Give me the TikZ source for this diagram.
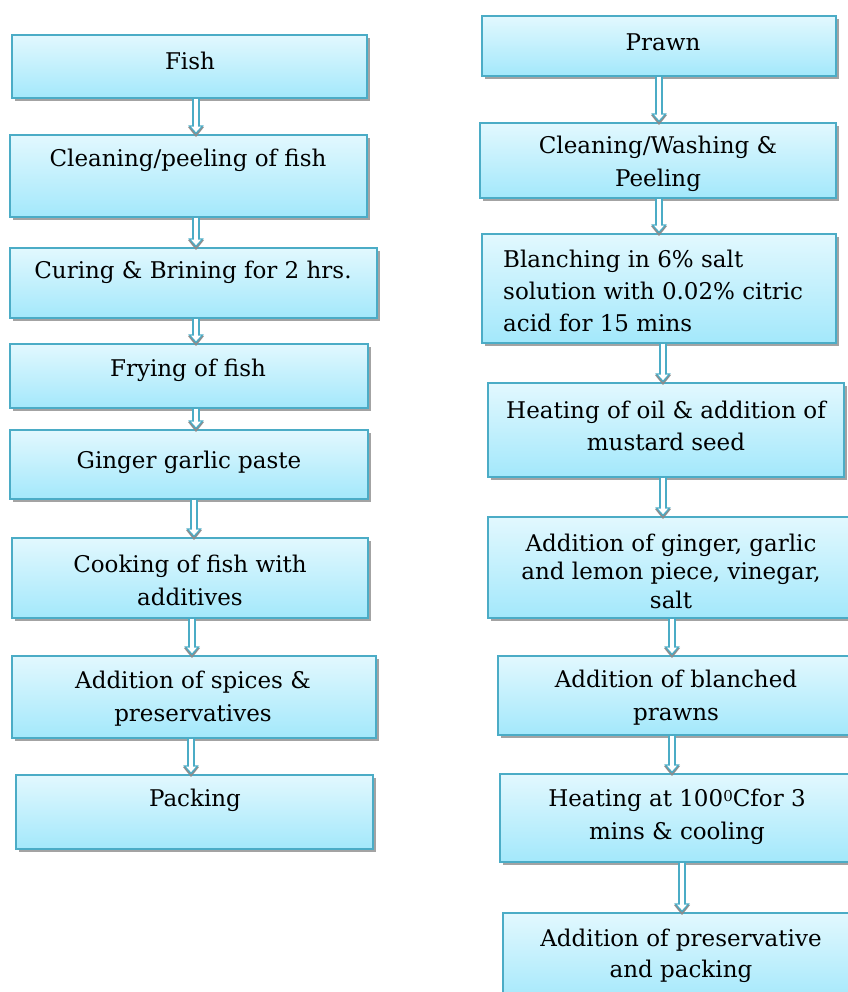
\documentclass[tikz,border=0pt]{standalone}
\usepackage{fontspec}
\setmainfont{DejaVu Serif}
\usetikzlibrary{arrows.meta,shadows}
\definecolor{bord}{HTML}{4BACC6}
\definecolor{topc}{HTML}{E2F8FE}
\definecolor{botc}{HTML}{A3E8FB}
\begin{document}
\begin{tikzpicture}[x=1pt,y=-1pt,
  box/.style={draw=bord, line width=1.3pt, top color=topc, bottom color=botc, inner sep=0pt,
     drop shadow={shadow xshift=2.5pt, shadow yshift=-3pt, fill=black!45, opacity=0.8}},
  txt/.style={font=\fontsize{23}{33}\selectfont, align=center, inner sep=0pt},
  arr/.style={
     preaction={draw=black!45, line width=0.01pt, -{Triangle[width=16pt,length=10pt]}, shorten >=-2.5pt},
     draw=bord, line width=8pt, -{Triangle[width=15pt,length=9pt]},
     postaction={draw=white, line width=4.6pt, -{Triangle[width=9.5pt,length=5.5pt]}, shorten >=2.2pt}}]
\useasboundingbox (0,0) rectangle (847,992);
\fill[white] (0,0) rectangle (847,992);
% left column
\node[box, minimum width=355pt, minimum height=63pt] (L1) at (189.5,66.5) {};
\node[box, minimum width=357pt, minimum height=82pt] (L2) at (188.5,176) {};
\node[box, minimum width=367pt, minimum height=70pt] (L3) at (193.5,283) {};
\node[box, minimum width=358pt, minimum height=64pt] (L4) at (189,376) {};
\node[box, minimum width=358pt, minimum height=69pt] (L5) at (189,464.5) {};
\node[box, minimum width=356pt, minimum height=80pt] (L6) at (190,578) {};
\node[box, minimum width=364pt, minimum height=82pt] (L7) at (194,697) {};
\node[box, minimum width=357pt, minimum height=74pt] (L8) at (194.5,812) {};
% right column
\node[box, minimum width=354pt, minimum height=60pt] (R1) at (659,46) {};
\node[box, minimum width=356pt, minimum height=75pt] (R2) at (658,160.5) {};
\node[box, minimum width=354pt, minimum height=109pt] (R3) at (659,288.5) {};
\node[box, minimum width=356pt, minimum height=94pt] (R4) at (666,430) {};
\node[box, minimum width=366pt, minimum height=101pt] (R5) at (671,567.5) {};
\node[box, minimum width=356pt, minimum height=79pt] (R6) at (676,695.5) {};
\node[box, minimum width=354pt, minimum height=88pt] (R7) at (677,818) {};
\node[box, minimum width=356pt, minimum height=90pt] (R8) at (681,958) {};
% texts left
\node[txt] (tL1) at (190,61) {Fish};
\node[txt] (tL2) at (188,160) {Cleaning/peeling of fish};
\node[txt] (tL3) at (193,272) {Curing \& Brining for 2 hrs.};
\node[txt] (tL4) at (188,370) {Frying of fish};
\node[txt] (tL5) at (189,462) {Ginger garlic paste};
\node[txt] (tL6) at (190,580) {Cooking of fish with\\additives};
\node[txt] (tL7) at (193,699) {Addition of spices \&\\preservatives};
\node[txt] (tL8) at (195,800) {Packing};
% texts right
\node[txt] (tR1) at (663,42) {Prawn};
\begin{scope}
\clip (R2.north west) rectangle ([yshift=-5pt]R2.south east);
\node[txt] (tR2) at (658,164) {Cleaning/Washing \&\\Peeling};
\end{scope}
\node[txt, align=left, anchor=west, font=\fontsize{23}{32}\selectfont] (tR3) at (503,291) {Blanching in 6\% salt\\solution with 0.02\% citric\\acid for 15 mins};
\node[txt, font=\fontsize{23}{32}\selectfont] (tR4) at (666,426) {Heating of oil \& addition of\\mustard seed};
\node[txt, font=\fontsize{23}{28.5}\selectfont] (tR5) at (671,571) {Addition of ginger, garlic\\and lemon piece, vinegar,\\salt};
\begin{scope}
\clip (R6.north west) rectangle ([yshift=-5pt]R6.south east);
\node[txt] (tR6) at (676,697.5) {Addition of blanched\\prawns};
\end{scope}
\node[txt] (tR7) at (677,816.5) {Heating at 100{\fontsize{15}{15}\selectfont\raisebox{5pt}{0}}Cfor 3\\mins \& cooling};
\node[txt, font=\fontsize{23}{31}\selectfont] (tR8) at (681,955.5) {Addition of preservative\\and packing};
% arrows left
\draw[arr] (196,0|-L1.south) -- (196,0|-L2.north);
\draw[arr] (196,0|-L2.south) -- (196,0|-L3.north);
\draw[arr] (196,0|-L3.south) -- (196,0|-L4.north);
\draw[arr] (196,0|-L4.south) -- (196,0|-L5.north);
\draw[arr] (194,0|-L5.south) -- (194,0|-L6.north);
\draw[arr] (192,0|-L6.south) -- (192,0|-L7.north);
\draw[arr] (191,0|-L7.south) -- (191,0|-L8.north);
% arrows right
\draw[arr] (659,0|-R1.south) -- (659,0|-R2.north);
\draw[arr] (659,0|-R2.south) -- (659,0|-R3.north);
\draw[arr] (663,0|-R3.south) -- (663,0|-R4.north);
\draw[arr] (663,0|-R4.south) -- (663,0|-R5.north);
\draw[arr] (672,0|-R5.south) -- (672,0|-R6.north);
\draw[arr] (672,0|-R6.south) -- (672,0|-R7.north);
\draw[arr] (682,0|-R7.south) -- (682,0|-R8.north);
\end{tikzpicture}
\end{document}
